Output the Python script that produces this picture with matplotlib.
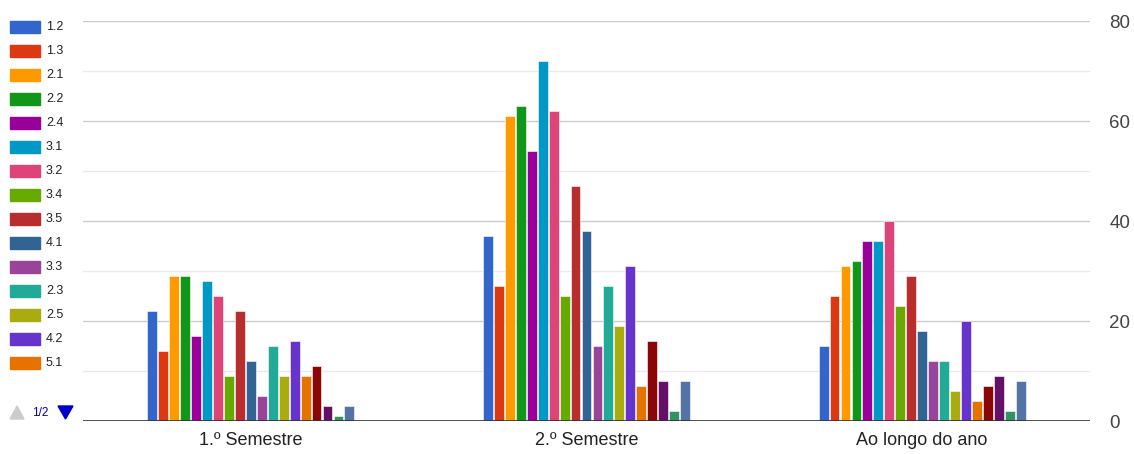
import numpy as np
import matplotlib
matplotlib.use("Agg")
import matplotlib.pyplot as plt
from matplotlib.patches import Rectangle, Polygon

plt.rcParams["font.family"] = ["Liberation Sans", "DejaVu Sans"]

# data
groups = ["1.º Semestre", "2.º Semestre", "Ao longo do ano"]
series = ["1.2", "1.3", "2.1", "2.2", "2.4", "3.1", "3.2", "3.4", "3.5", "4.1",
          "3.3", "2.3", "2.5", "4.2", "5.1", "1.1", "2.6", "4.3", "5.2"]
values = [
    [22, 37, 15],
    [14, 27, 25],
    [29, 61, 31],
    [29, 63, 32],
    [17, 54, 36],
    [28, 72, 36],
    [25, 62, 40],
    [9, 25, 23],
    [22, 47, 29],
    [12, 38, 18],
    [5, 15, 12],
    [15, 27, 12],
    [9, 19, 6],
    [16, 31, 20],
    [9, 7, 4],
    [11, 16, 7],
    [3, 8, 9],
    [1, 2, 2],
    [3, 8, 8],
]
colors = ["#3366cc", "#dc3912", "#ff9900", "#109618", "#990099", "#0099c6",
          "#dd4477", "#66aa00", "#b82e2e", "#316395", "#994499", "#22aa99",
          "#aaaa11", "#6633cc", "#e67300", "#8b0707", "#651067", "#329262",
          "#5574a6"]
legend_shown = 15

W, H = 1134, 454
fig = plt.figure(figsize=(W / 100, H / 100), dpi=100)
ax = fig.add_axes([83 / W, 1 - 421 / H, (1090 - 83) / W, 400 / H])

n = len(series)
x = np.arange(len(groups))
slot = 0.62 / n
bw = slot * 0.9
for i, (name, vals, c) in enumerate(zip(series, values, colors)):
    off = (i - (n - 1) / 2) * slot
    ax.bar(x + off, vals, width=bw, color=c, edgecolor="white", linewidth=0.4, zorder=3)

ax.set_xlim(-0.5, len(groups) - 0.5)
ax.set_ylim(0, 80)
ax.set_yticks([0, 20, 40, 60, 80])
ax.set_yticks([10, 30, 50, 70], minor=True)
ax.yaxis.tick_right()
ax.grid(axis="y", which="major", color="#cccccc", linewidth=1, zorder=0)
ax.grid(axis="y", which="minor", color="#ebebeb", linewidth=1, zorder=0)
ax.axhline(0, color="#333333", linewidth=1.2, zorder=4)
ax.tick_params(axis="y", which="both", length=0, pad=14, labelsize=13.5, labelcolor="#444444")
ax.tick_params(axis="x", length=0, pad=8, labelsize=13, labelcolor="#222222")
ax.set_xticks(x)
ax.set_xticklabels(groups)
for s in ax.spines.values():
    s.set_visible(False)

# legend (page 1 of 2)
for i in range(legend_shown):
    yc = 27 + i * 24
    fig.patches.append(Rectangle((10 / W, 1 - (yc + 6) / H), 30 / W, 12 / H,
                                 transform=fig.transFigure, color=colors[i]))
    fig.text(46 / W, 1 - yc / H, series[i], fontsize=9, color="#222222",
             va="center", ha="left")
fig.patches.append(Polygon([[10 / W, 1 - 419 / H], [24 / W, 1 - 419 / H], [17 / W, 1 - 406 / H]],
                           closed=True, transform=fig.transFigure, color="#cccccc"))
fig.text(32 / W, 1 - 413 / H, "1/2", fontsize=8.5, color="#0000cc", va="center", ha="left")
fig.patches.append(Polygon([[58 / W, 1 - 406 / H], [73 / W, 1 - 406 / H], [65.5 / W, 1 - 419 / H]],
                           closed=True, transform=fig.transFigure, color="#0000cc"))

fig.savefig("out.png", dpi=100, facecolor="white")
